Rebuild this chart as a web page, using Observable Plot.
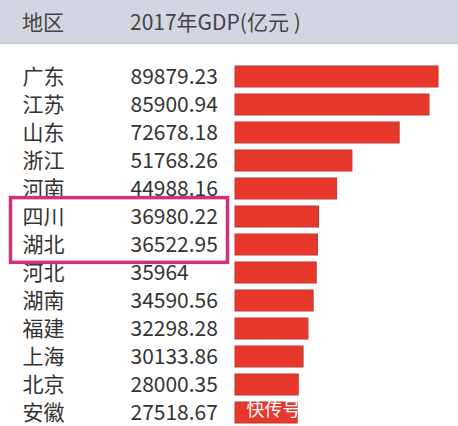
<!DOCTYPE html>
<html>
<head>
<meta charset="utf-8">
<script src="https://cdn.jsdelivr.net/npm/d3@7"></script>
<script src="https://cdn.jsdelivr.net/npm/@observablehq/plot@0.6"></script>
<style>
  html, body { margin: 0; padding: 0; background: #ffffff; overflow: hidden; }
  body { width: 458px; height: 426px; font-family: 'Noto Sans CJK SC', 'Noto Sans', sans-serif; }
  #header { position: relative; height: 42px; background: #d3d6e0; border-bottom: 2px solid #c6cad5; color: #444; font-size: 21px; }
  #header span { position: absolute; top: 7px; line-height: 28px; }
  #chart svg { display: block; }
</style>
</head>
<body>
<div id="header"><span id="h1"></span><span id="h2"></span></div>
<div id="chart"></div>
<script>
const headerLabels = ["地区", "2017年GDP(亿元 )"];
const provinces = ["广东","江苏","山东","浙江","河南","四川","湖北","河北","湖南","福建","上海","北京","安徽"];
const gdp = [89879.23, 85900.94, 72678.18, 51768.26, 44988.16, 36980.22, 36522.95, 35964, 34590.56, 32298.28, 30133.86, 28000.35, 27518.67];
const highlighted = ["四川", "湖北"];
const watermark = "快传号";

const h1 = document.getElementById("h1");
const h2 = document.getElementById("h2");
h1.textContent = headerLabels[0]; h1.style.left = "22px";
h2.textContent = headerLabels[1]; h2.style.left = "130px";

const data = provinces.map((name, i) => ({name, gdp: gdp[i]}));
const font = "'Noto Sans CJK SC', 'Noto Sans', sans-serif";

const plot = Plot.plot({
  width: 458,
  height: 384,
  marginLeft: 235,
  marginRight: 20,
  marginTop: 18,
  marginBottom: 1,
  style: {fontFamily: font, background: "#ffffff"},
  x: {domain: [0, 89879.23], axis: null},
  y: {domain: provinces, axis: null, paddingInner: 0.26, paddingOuter: 0.13},
  marks: [
    Plot.barX(data, {x: "gdp", y: "name", fill: "#e8372b", stroke: "#c2392f", strokeWidth: 1}),
    Plot.text(data, {y: "name", text: "name", frameAnchor: "left", textAnchor: "start", dx: -213, fontSize: 21, fill: "#333"}),
    Plot.text(data, {y: "name", text: d => String(d.gdp), frameAnchor: "left", textAnchor: "start", dx: -105, fontSize: 21, fill: "#333"}),
    Plot.text([{name: provinces[provinces.length - 1]}], {y: "name", text: () => watermark, frameAnchor: "left", textAnchor: "start", dx: 11, dy: -3, fontSize: 18, fill: "#ffffff"})
  ]
});

// highlight box drawn from the y scale positions of the highlighted rows
const ys = plot.scale("y");
const boxTop = ys.apply(highlighted[0]) - ys.bandwidth * 0.4;
const boxBottom = ys.apply(highlighted[1]) + ys.bandwidth * 1.35;
d3.select(plot).append("rect")
  .attr("x", 10.5)
  .attr("y", boxTop)
  .attr("width", 217)
  .attr("height", boxBottom - boxTop)
  .attr("fill", "none")
  .attr("stroke", "#d4317c")
  .attr("stroke-width", 3.5);

document.getElementById("chart").appendChild(plot);
</script>
</body>
</html>
